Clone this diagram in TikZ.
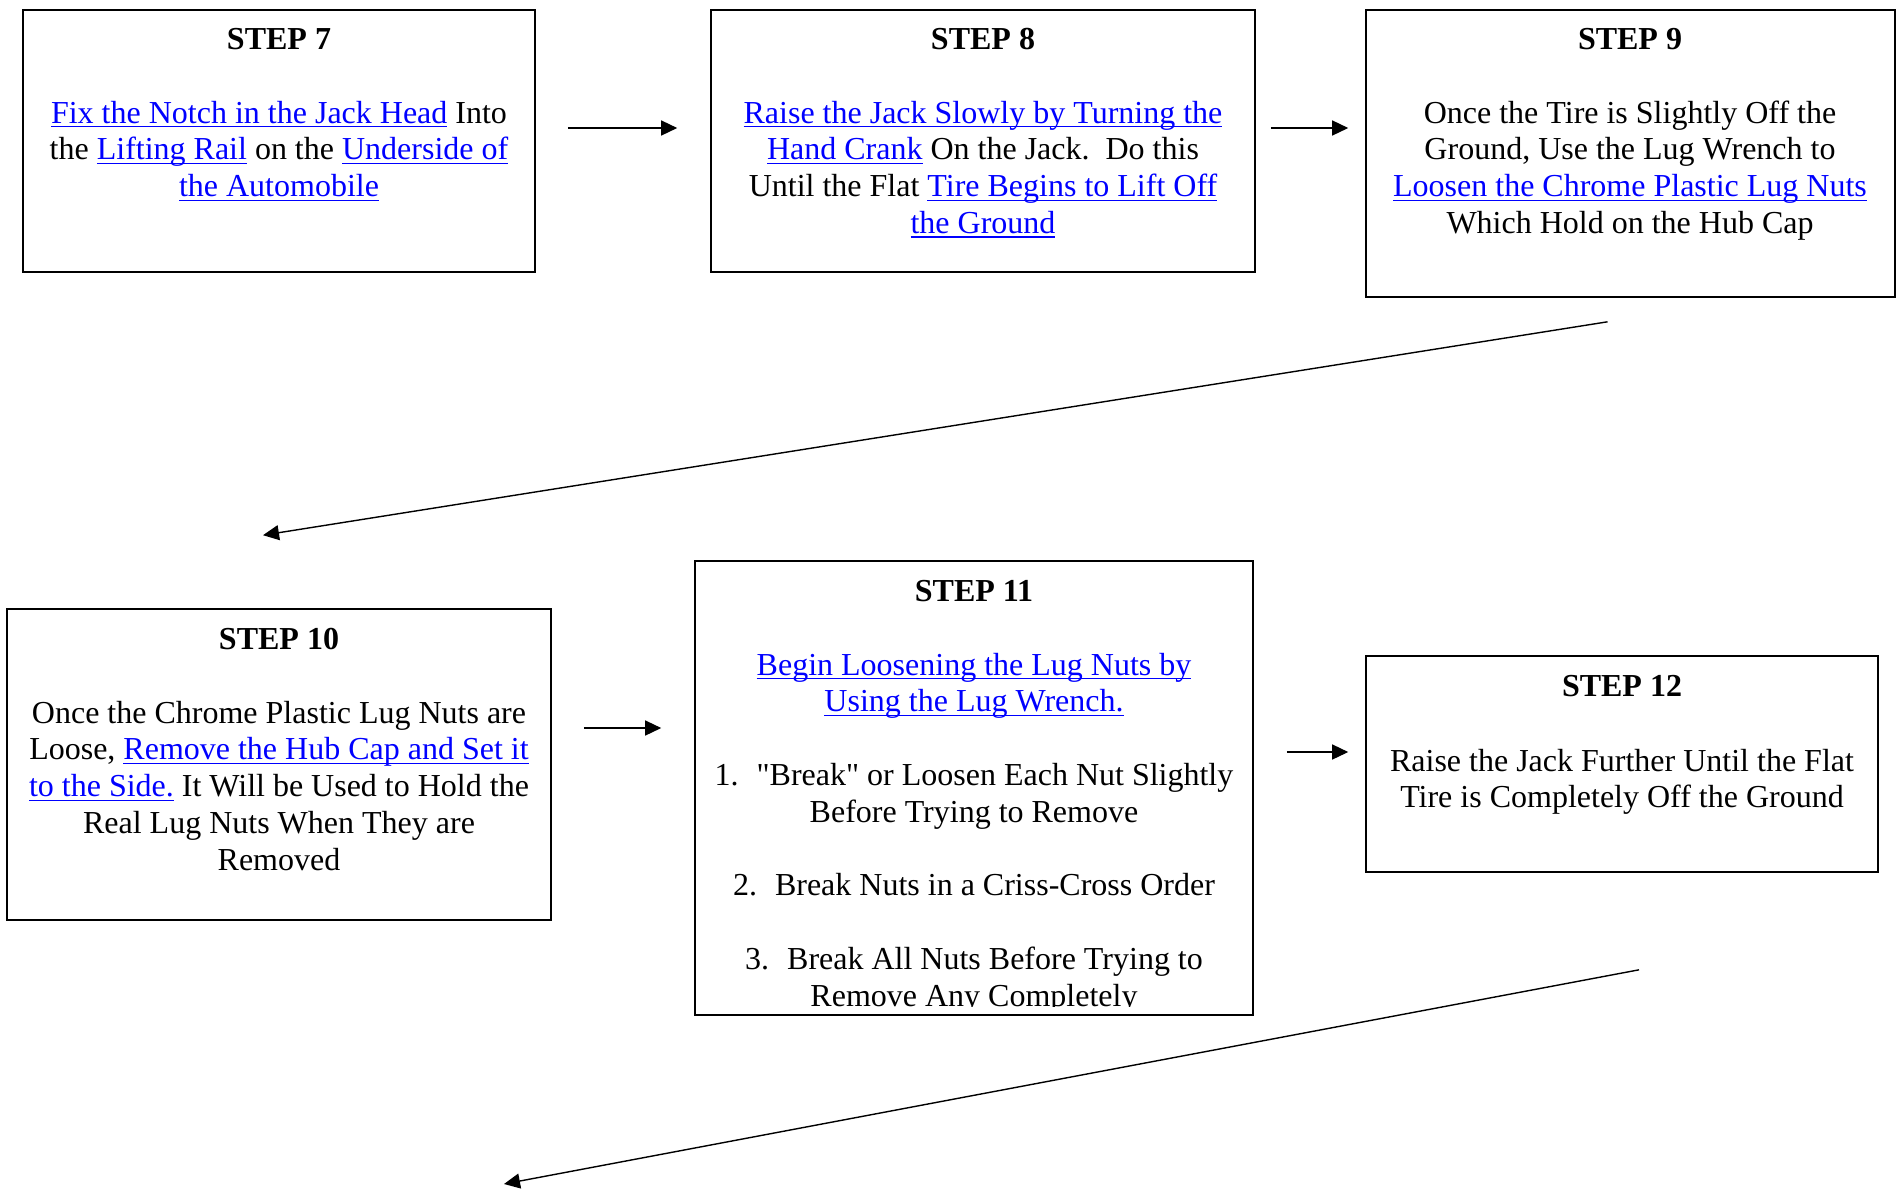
\documentclass[tikz,border=0pt]{standalone}
\usepackage{fontspec}
\setmainfont{Liberation Serif}
\newfontfamily\qfont{Liberation Serif}
\usetikzlibrary{arrows.meta,calc}
\definecolor{linkblue}{RGB}{0,0,255}
\newcommand\lk[1]{{\color{linkblue}\setbox0\hbox{#1}\rlap{\rule[-2.2pt]{\wd0}{0.75pt}}\box0}}
\newcommand\bodyfont{\fontsize{16}{18}\selectfont}
\newcommand\sq{{\qfont"}}
\begin{document}
\begin{tikzpicture}[x=0.5pt,y=-0.5pt,
  stepbox/.style={draw=black,line width=0.8pt,fill=white,inner sep=0pt},
  ln/.style={anchor=base,inner sep=0pt,font=\bodyfont},
  hd/.style={anchor=base,inner sep=0pt,font=\bodyfont\bfseries},
  arr/.style={line width=0.7pt,-{Triangle[length=8pt,width=7.5pt]}}]
\useasboundingbox[fill=white] (0,0) rectangle (1899,1189);

% boxes
\node[stepbox,minimum width=256pt,minimum height=131pt] (b7) at (279,141) {};
\node[stepbox,minimum width=272pt,minimum height=131pt] (b8) at (983,141) {};
\node[stepbox,minimum width=264.5pt,minimum height=143.5pt] (b9) at (1630.5,153.5) {};
\node[stepbox,minimum width=272pt,minimum height=155.5pt] (b10) at (279,764.5) {};
\node[stepbox,minimum width=279pt,minimum height=227pt] (b11) at (974,788) {};
\node[stepbox,minimum width=256pt,minimum height=108pt] (b12) at (1622,764) {};

% STEP 7
\node[hd] (h7) at (279,49) {STEP 7};
\node[ln] (t7a) at (279,123) {\lk{Fix the Notch in the Jack Head} Into};
\node[ln] (t7b) at (279,159.8) {the \lk{Lifting Rail} on the \lk{Underside of}};
\node[ln] (t7c) at (279,196.6) {\lk{the Automobile}};

% STEP 8
\node[hd] (h8) at (983,49) {STEP 8};
\node[ln] (t8a) at (983,123) {\lk{Raise the Jack Slowly by Turning the}};
\node[ln] (t8b) at (983,159.8) {\lk{Hand Crank} On the Jack.\ \ Do this};
\node[ln] (t8c) at (983,196.6) {Until the Flat \lk{Tire Begins to Lift Off}};
\node[ln] (t8d) at (983,233.4) {\lk{the Ground}};

% STEP 9
\node[hd] (h9) at (1630,49) {STEP 9};
\node[ln] (t9a) at (1630,123) {Once the Tire is Slightly Off the};
\node[ln] (t9b) at (1630,159.8) {Ground, Use the Lug Wrench to};
\node[ln] (t9c) at (1630,196.6) {\lk{Loosen the Chrome Plastic Lug Nuts}};
\node[ln] (t9d) at (1630,233.4) {Which Hold on the Hub Cap};

% STEP 10
\node[hd] (h10) at (279,649) {STEP 10};
\node[ln] (t10a) at (279,723) {Once the Chrome Plastic Lug Nuts are};
\node[ln] (t10b) at (279,759.8) {Loose, \lk{Remove the Hub Cap and Set it}};
\node[ln] (t10c) at (279,796.6) {\lk{to the Side.} It Will be Used to Hold the};
\node[ln] (t10d) at (279,833.4) {Real Lug Nuts When They are};
\node[ln] (t10e) at (279,870.2) {Removed};

% STEP 11 (text clipped by the box)
\begin{scope}
\clip (b11.north west) rectangle ($(b11.south east)+(0,-9)$);
\node[hd] (h11) at (974,601) {STEP 11};
\node[ln] (t11a) at (974,675) {\lk{Begin Loosening the Lug Nuts by}};
\node[ln] (t11b) at (974,711.8) {\lk{Using the Lug Wrench.}};
\node[ln] (t11c) at (974,785.4) {1.\hspace{9pt}\sq Break\sq{} or Loosen Each Nut Slightly};
\node[ln] (t11d) at (974,822.2) {Before Trying to Remove};
\node[ln] (t11e) at (974,895.8) {2.\hspace{9pt}Break Nuts in a Criss-Cross Order};
\node[ln] (t11f) at (974,969.4) {3.\hspace{9pt}Break All Nuts Before Trying to};
\node[ln] (t11g) at (974,1006.2) {Remove Any Completely};
\end{scope}

% STEP 12
\node[hd] (h12) at (1622,696) {STEP 12};
\node[ln] (t12a) at (1622,771) {Raise the Jack Further Until the Flat};
\node[ln] (t12b) at (1622,807.8) {Tire is Completely Off the Ground};

% connectors
\coordinate (e12) at (504,1184);
\draw[arr] ($(b7.east)+(32,-13)$) -- ($(b8.west)+(-33,-13)$);
\draw[arr] ($(b8.east)+(15,-13)$) -- ($(b9.west)+(-17,-25.5)$);
\draw[arr] ($(b9.south)+(-23,24)$) -- ($(b10.north)+(-16,-73)$);
\draw[arr] ($(b10.east)+(32,-36.5)$) -- ($(b11.west)+(-33,-60)$);
\draw[arr] ($(b11.east)+(33,-36)$) -- ($(b12.west)+(-17,-12)$);
\draw[arr] ($(b12.south)+(17,97)$) -- (e12);
\end{tikzpicture}
\end{document}
